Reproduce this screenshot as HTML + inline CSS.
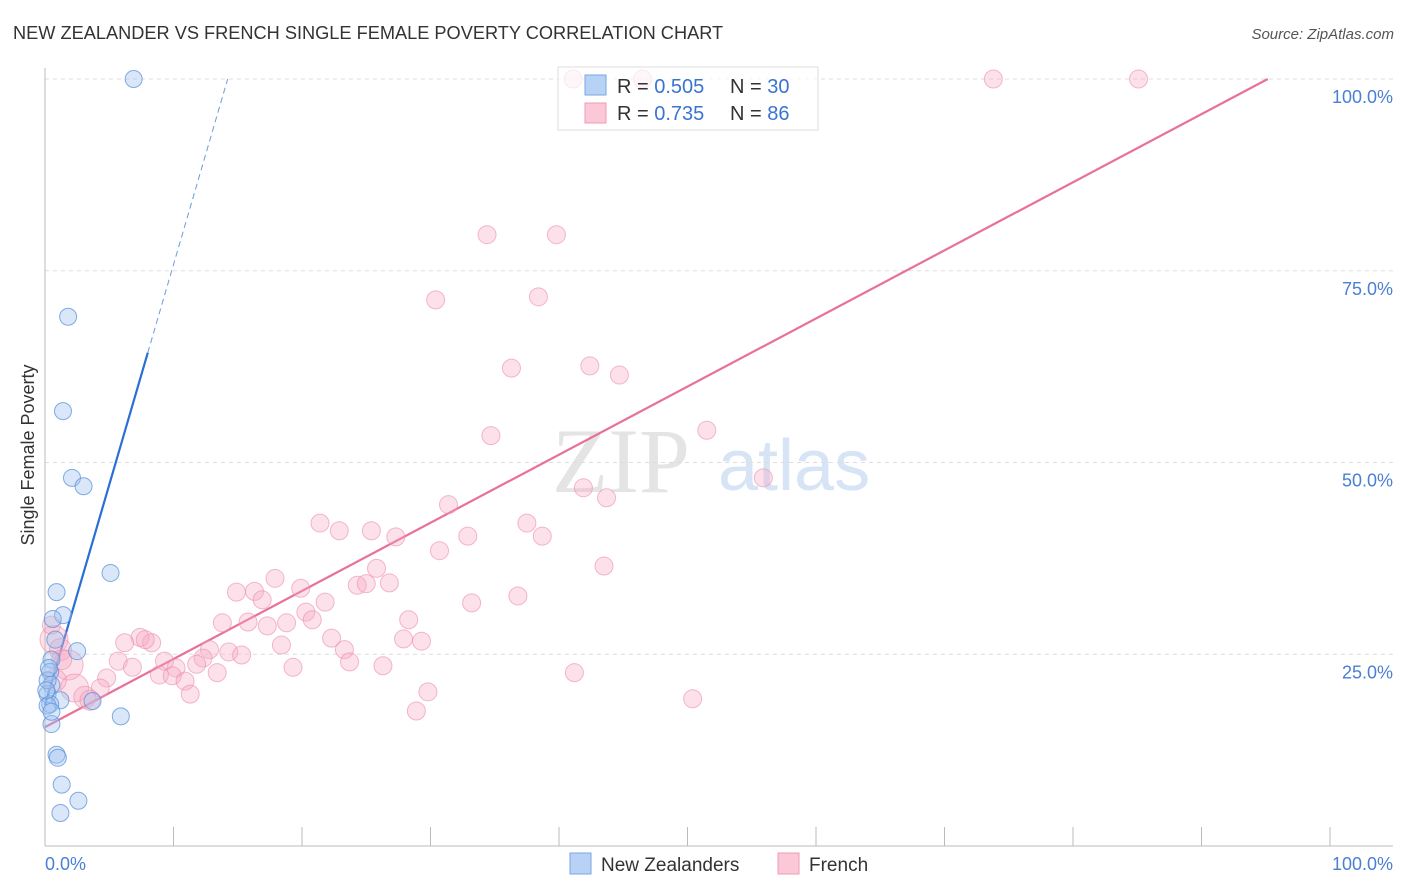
<!DOCTYPE html>
<html><head><meta charset="utf-8"><style>
body{margin:0;background:#fff;font-family:"Liberation Sans",sans-serif}
svg{display:block}
</style></head><body>
<svg id="chart" width="1406" height="892">
<text x="13" y="39" font-size="18.2" fill="#333">NEW ZEALANDER VS FRENCH SINGLE FEMALE POVERTY CORRELATION CHART</text>
<text x="1394" y="39" font-size="15" fill="#555" font-style="italic" text-anchor="end">Source: ZipAtlas.com</text>
<text transform="translate(34,455) rotate(-90)" font-size="18" fill="#333" text-anchor="middle">Single Female Poverty</text>
<g><text x="552" y="492" font-size="92" fill="#e4e4e4" font-family="Liberation Serif,serif">ZIP</text><text x="718" y="490" font-size="72" fill="#d6e4f6">atlas</text></g>
<g id="grid"></g><g id="axes"></g><g id="lines"></g><g id="pts"></g>
<g>
<rect x="558" y="67" width="260" height="63" fill="#fff" fill-opacity="0.7" stroke="#ddd"/>
<rect x="585" y="75" width="21" height="20" fill="#b8d2f6" stroke="#7aa6e6"/>
<rect x="585" y="103" width="21" height="20" fill="#fac8d6" stroke="#f09ab4"/>
<text x="617" y="93" font-size="20" fill="#333">R = <tspan fill="#3a74d0">0.505</tspan></text>
<text x="730" y="93" font-size="20" fill="#333">N = <tspan fill="#3a74d0">30</tspan></text>
<text x="617" y="120" font-size="20" fill="#333">R = <tspan fill="#3a74d0"> 0.735</tspan></text>
<text x="730" y="120" font-size="20" fill="#333">N = <tspan fill="#3a74d0">86</tspan></text>
</g>
<g>
<rect x="570" y="853" width="21" height="21" fill="#b8d2f6" stroke="#7aa6e6"/>
<text x="601" y="871" font-size="19" fill="#333">New Zealanders</text>
<rect x="778" y="853" width="21" height="21" fill="#fac8d6" stroke="#f09ab4"/>
<text x="809" y="871" font-size="19" fill="#333">French</text>
</g>
</svg>
<script>
const yTicks=[25,50,75,100];
const yTickLabels=["25.0%","50.0%","75.0%","100.0%"];
const xTicks=[0,10,20,30,40,50,60,70,80,90,100];
const nzX=[6.9,1.8,1.4,2.1,3.0,5.1,0.9,1.4,0.6,2.5,0.5,0.4,0.5,0.2,1.2,0.4,3.7,5.9,0.5,0.9,1.0,1.3,2.6,1.2,0.2,0.2,0.8,0.1,0.5,0.3];
const nzY=[100,69.0,56.7,48.0,46.9,35.6,33.1,30.1,29.6,25.4,24.3,22.7,21.0,19.8,19.0,18.5,18.9,16.9,15.9,11.9,11.5,8.0,5.9,4.3,18.3,21.6,26.9,20.3,17.5,23.2];
const frX=[41.1,46.5,73.8,85.1,34.4,39.8,30.4,38.4,36.3,42.4,44.7,34.7,51.5,55.9,41.9,43.7,31.4,21.4,22.9,25.4,37.5,38.7,27.3,32.9,30.7,43.5,25.8,17.9,24.3,25.0,26.8,14.9,16.3,19.9,36.8,33.2,16.9,21.8,20.3,20.8,28.3,13.8,15.8,18.8,17.3,7.4,6.2,8.3,7.8,22.3,27.9,29.3,18.4,12.8,23.3,14.3,15.3,12.3,5.7,9.3,23.7,6.8,11.8,10.2,19.3,26.3,41.2,8.9,9.9,13.4,10.9,4.8,4.3,11.3,29.8,50.4,28.9,0.7,1.2,1.8,2.3,3.1,3.5,0.8,0.5,1.3];
const frY=[100,100,100,100,79.7,79.7,71.2,71.6,62.3,62.6,61.4,53.5,54.2,48.0,46.7,45.4,44.5,42.1,41.1,41.1,42.1,40.4,40.3,40.4,38.5,36.5,36.2,34.9,34.0,34.2,34.3,33.1,33.2,33.6,32.6,31.7,32.1,31.8,30.5,29.5,29.5,29.1,29.2,29.1,28.7,27.2,26.5,26.5,26.9,27.1,27.0,26.7,26.2,25.6,25.6,25.3,24.9,24.5,24.1,24.1,24.0,23.3,23.7,23.2,23.3,23.5,22.6,22.3,22.2,22.6,21.5,21.9,20.6,19.8,20.1,19.2,17.6,26.9,25.6,23.6,20.6,19.4,19.0,21.6,28.8,24.3];
const frR=[9,9,9,9,9,9,9,9,9,9,9,9,9,9,9,9,9,9,9,9,9,9,9,9,9,9,9,9,9,9,9,9,9,9,9,9,9,9,9,9,9,9,9,9,9,9,9,9,9,9,9,9,9,9,9,9,9,9,9,9,9,9,9,9,9,9,9,9,9,9,9,9,9,9,9,9,9,14,11,15,14,11,10,11,9,10];
const nzLine=[18.4,5.74];
const frLine=[15.5,0.888];
const NS="http://www.w3.org/2000/svg";
const X=v=>45+v*12.85, Y=v=>846-v*7.67;
function mk(p,t,a){const e=document.createElementNS(NS,t);for(const k in a)e.setAttribute(k,a[k]);document.getElementById(p).appendChild(e);return e;}
yTicks.forEach((t,i)=>{
 const g=mk('grid','line',{x1:45,x2:1393,y1:Y(t),y2:Y(t),stroke:'#ddd','stroke-dasharray':'4,4'});
 
 
 const l=mk('axes','text',{x:1393,y:Y(t)+24,'font-size':18,fill:'#4a7fd4','text-anchor':'end'});l.textContent=yTickLabels[i];
 
 
});
let a=mk('axes','line',{x1:45,x2:45,y1:68,y2:846,stroke:'#bbb'});


a=mk('axes','line',{x1:45,x2:1393,y1:846,y2:846,stroke:'#bbb'});


xTicks.forEach(t=>{const e=mk('axes','line',{x1:X(t),x2:X(t),y1:827,y2:846,stroke:'#bbb'});
 
 });
let t0=mk('axes','text',{x:45,y:870,'font-size':18,fill:'#4a7fd4'});t0.textContent='0.0%';


t0=mk('axes','text',{x:1393,y:870,'font-size':18,fill:'#4a7fd4','text-anchor':'end'});t0.textContent='100.0%';


frX.forEach((x,i)=>{const c=mk('pts','circle',{cx:X(x),cy:Y(frY[i]),r:frR[i],fill:'rgba(246,170,194,0.35)',stroke:'rgba(236,140,170,0.6)'});
 
 });
nzX.forEach((x,i)=>{const c=mk('pts','circle',{cx:X(x),cy:Y(nzY[i]),r:8.5,fill:'rgba(160,196,240,0.4)',stroke:'rgba(90,145,220,0.75)'});
 
 });
let xe=(100-frLine[0])/frLine[1];
let ln=mk('lines','line',{x1:X(0),y1:Y(frLine[0]),x2:X(xe),y2:Y(100),stroke:'#e8709a','stroke-width':2.2});


ln=mk('lines','line',{x1:X(0),y1:Y(nzLine[0]),x2:X(8),y2:Y(nzLine[0]+nzLine[1]*8),stroke:'#2a6fd6','stroke-width':2.2});


xe=(100-nzLine[0])/nzLine[1];
ln=mk('lines','line',{x1:X(8),y1:Y(nzLine[0]+nzLine[1]*8),x2:X(xe),y2:Y(100),stroke:'#6a9be0','stroke-width':1,'stroke-dasharray':'6,4'});


</script>
</body></html>
